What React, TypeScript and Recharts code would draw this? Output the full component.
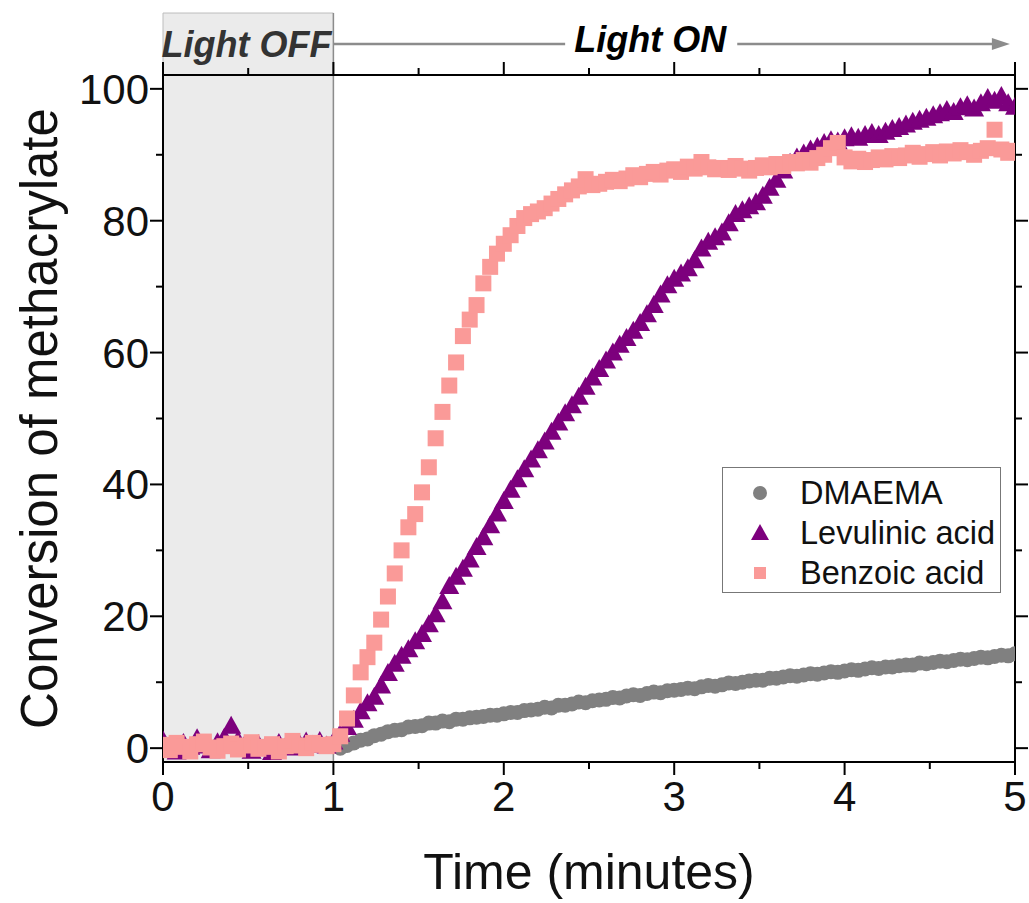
import React from "react";
import { ScatterChart, Scatter, XAxis, YAxis, Legend, ReferenceArea, ReferenceLine, ReferenceDot } from "recharts";

// sampling times (minutes)
const TIME = [
  0, 0.04, 0.08, 0.12, 0.16, 0.2, 0.24, 0.28, 0.32, 0.36, 0.4, 0.44, 0.48, 0.52, 0.56, 0.6, 0.64, 0.68, 0.72, 0.76, 0.8, 0.84, 0.88, 0.92, 0.96,
  1, 1.04, 1.08, 1.12, 1.16, 1.2, 1.24, 1.28, 1.32, 1.36, 1.4, 1.44, 1.48, 1.52, 1.56, 1.6, 1.64, 1.68, 1.72, 1.76, 1.8, 1.84, 1.88, 1.92, 1.96,
  2, 2.04, 2.08, 2.12, 2.16, 2.2, 2.24, 2.28, 2.32, 2.36, 2.4, 2.44, 2.48, 2.52, 2.56, 2.6, 2.64, 2.68, 2.72, 2.76, 2.8, 2.84, 2.88, 2.92, 2.96,
  3, 3.04, 3.08, 3.12, 3.16, 3.2, 3.24, 3.28, 3.32, 3.36, 3.4, 3.44, 3.48, 3.52, 3.56, 3.6, 3.64, 3.68, 3.72, 3.76, 3.8, 3.84, 3.88, 3.92, 3.96,
  4, 4.04, 4.08, 4.12, 4.16, 4.2, 4.24, 4.28, 4.32, 4.36, 4.4, 4.44, 4.48, 4.52, 4.56, 4.6, 4.64, 4.68, 4.72, 4.76, 4.8, 4.84, 4.88, 4.92, 4.96,
  5,
];

const DMAEMA = [
  null, null, null, null, null, null, null, null, null, null, null, null, null, null, null, null, null, null, null, null, null, null, null, null, null,
  null, 0.0, 0.4, 0.8, 1.2, 1.4, 1.9, 2.1, 2.5, 2.7, 2.8, 3.2, 3.3, 3.4, 3.8, 3.8, 4.1, 4.0, 4.4, 4.4, 4.6, 4.7, 4.8, 5.0, 5.0,
  5.2, 5.4, 5.4, 5.7, 5.8, 5.9, 6.2, 6.1, 6.5, 6.5, 6.7, 7.0, 6.9, 7.2, 7.3, 7.4, 7.7, 7.6, 7.9, 8.1, 8.0, 8.3, 8.5, 8.4, 8.7,
  8.8, 8.9, 9.1, 9.0, 9.3, 9.5, 9.4, 9.6, 9.9, 9.8, 10.0, 10.2, 10.3, 10.3, 10.6, 10.6, 10.8, 11.0, 10.9, 11.1, 11.3, 11.2, 11.4, 11.6, 11.5,
  11.7, 11.9, 11.8, 12.0, 12.2, 12.1, 12.3, 12.3, 12.5, 12.6, 12.6, 12.9, 12.8, 13.0, 13.2, 13.1, 13.3, 13.5, 13.4, 13.6, 13.8, 13.7, 13.9, 14.1, 14.0,
  14.3,
];

const LEVULINIC = [
  1.2, 0.3, -0.5, 0.8, 0.2, 1.5, 0.4, -0.3, 0.9, 1.6, 3.4, 1.2, 0.5, -0.4, 0.6, 0.2, -0.6, 0.8, 0.3, 0.1, 0.7, 1.0, 0.5, 1.1, 0.4,
  1.0, 2.2, 3.2, 4.3, 5.6, 6.8, 7.8, 9.5, 11.4, 12.8, 14.0, 15.0, 16.2, 17.3, 18.8, 20.3, 22.3, 24.6, 26.0, 27.2, 28.6, 30.5, 32.0, 33.8, 35.6,
  37.5, 39.2, 40.8, 42.3, 43.8, 45.2, 46.5, 48.0, 49.4, 50.8, 52.0, 53.3, 54.8, 56.2, 57.5, 58.8, 60.0, 61.2, 62.2, 63.3, 64.5, 65.8, 67.2, 68.8, 70.2,
  71.2, 72.0, 72.8, 74.0, 75.8, 76.8, 77.5, 78.2, 79.6, 81.0, 81.6, 82.2, 82.8, 83.8, 85.0, 86.2, 87.6, 88.8, 89.6, 90.2, 90.8, 91.2, 91.8, 92.2, 92.0,
  92.5, 92.8, 92.6, 93.0, 93.3, 93.0, 93.5, 93.9, 94.2, 94.6, 95.0, 95.3, 95.6, 96.0, 96.3, 96.8, 96.5, 97.2, 97.5, 97.0, 97.8, 98.6, 98.2, 98.9, 97.8,
  97.3,
];

const BENZOIC = [
  0.5, -0.3, 0.8, 0.2, -0.5, 0.6, 1.0, 0.1, -0.4, 0.3, 0.7, -0.2, 0.4, 0.9, -0.1, 0.2, 0.6, -0.5, 0.3, 1.1, 0.4, 0.0, 0.8, 0.5, 0.3,
  0.6, 1.8, 4.5, 8.0, 11.5, 13.8, 16.0, 19.5, 23.0, 26.5, 30.0, 33.5, 35.5, 38.8, 42.6, 47.0, 51.0, 55.0, 58.5, 62.5, 65.0, 67.2, 70.5, 73.0, 75.0,
  76.5, 77.8, 79.2, 80.4, 81.0, 81.4, 81.9, 82.6, 83.3, 84.0, 84.6, 85.2, 86.3, 85.4, 85.6, 85.9, 86.2, 86.0, 86.4, 86.9, 86.6, 87.1, 87.4, 87.0, 87.6,
  87.8, 87.4, 88.2, 87.9, 88.9, 88.1, 87.8, 88.0, 87.7, 88.3, 87.9, 87.6, 88.0, 88.4, 88.1, 88.6, 88.3, 88.9, 88.7, 89.2, 88.8, 89.5, 90.0, 91.0, 91.8,
  89.6, 89.0, 89.4, 88.9, 89.2, 89.6, 89.3, 89.8, 89.5, 89.9, 90.3, 89.7, 90.1, 90.4, 89.9, 90.5, 90.2, 90.7, 90.4, 90.0, 90.6, 91.0, 93.8, 90.8, 90.3,
  90.6,
];

const SERIES_NAMES = ["DMAEMA", "Levulinic acid", "Benzoic acid"];
const X_TICKS = [0, 0.5, 1, 1.5, 2, 2.5, 3, 3.5, 4, 4.5, 5];
const Y_TICKS = [0, 10, 20, 30, 40, 50, 60, 70, 80, 90, 100];

const FONT = "'Liberation Sans', Arial, Helvetica, sans-serif";
const GREY = "#808080";
const PURPLE = "#7d007d";
const PINK = "#fa9a98";

const toPoints = (vals: (number | null)[]) =>
  TIME.map((t, i) => ({ t, v: vals[i] })).filter((p) => p.v !== null);

const isMajorX = (v: number) => Number.isInteger(v);
const isMajorY = (v: number) => v % 20 === 0;

function BottomTick({ x, y, payload }: any) {
  const major = isMajorX(payload.value);
  return (
    <g>
      <line x1={x} x2={x} y1={y} y2={y + (major ? 13 : 7)} stroke="#000" strokeWidth={2} />
      {major && (
        <text x={x} y={y + 49} textAnchor="middle" fontSize={42} fontFamily={FONT} fill="#111">
          {payload.value}
        </text>
      )}
    </g>
  );
}

function TopTick({ x, y, payload }: any) {
  const major = isMajorX(payload.value);
  return <line x1={x} x2={x} y1={y} y2={y - (major ? 13 : 7)} stroke="#000" strokeWidth={2} />;
}

function LeftTick({ x, y, payload }: any) {
  const major = isMajorY(payload.value);
  return (
    <g>
      <line x1={x} x2={x - (major ? 13 : 7)} y1={y} y2={y} stroke="#000" strokeWidth={2} />
      {major && (
        <text x={x - 14} y={y + 15} textAnchor="end" fontSize={42} fontFamily={FONT} fill="#111">
          {payload.value}
        </text>
      )}
    </g>
  );
}

function RightTick({ x, y, payload }: any) {
  const major = isMajorY(payload.value);
  return <line x1={x} x2={x + (major ? 13 : 7)} y1={y} y2={y} stroke="#000" strokeWidth={2} />;
}

function XTitle({ viewBox }: any) {
  return (
    <text x={viewBox.x + viewBox.width / 2} y={viewBox.y + 127} textAnchor="middle" fontSize={50} fontFamily={FONT} fill="#111">
      Time (minutes)
    </text>
  );
}

function YTitle({ viewBox }: any) {
  const cx = viewBox.x + 57;
  const cy = viewBox.y + viewBox.height / 2;
  return (
    <text x={cx} y={cy} transform={`rotate(-90, ${cx}, ${cy})`} textAnchor="middle" fontSize={51} fontFamily={FONT} fill="#111">
      Conversion of methacrylate
    </text>
  );
}

const CircleMark = ({ cx, cy }: any) => <circle cx={cx} cy={cy} r={7.5} fill={GREY} />;
const TriMark = ({ cx, cy }: any) => (
  <polygon points={`${cx},${cy - 10} ${cx + 10},${cy + 8} ${cx - 10},${cy + 8}`} fill={PURPLE} />
);
const SquareMark = ({ cx, cy }: any) => <rect x={cx - 8} y={cy - 8} width={16} height={16} fill={PINK} />;

function LegendBox({ payload }: any) {
  const items = [...(payload || [])].sort(
    (a: any, b: any) => SERIES_NAMES.indexOf(a.value) - SERIES_NAMES.indexOf(b.value)
  );
  return (
    <svg width={280} height={127} style={{ display: "block" }}>
      <rect x={0.5} y={0.5} width={278} height={125} fill="#fff" stroke="#777" strokeWidth={1} />
      {items.map((e: any, i: number) => {
        const cy = 26 + i * 40;
        const cx = 38;
        let icon;
        if (e.type === "circle") icon = <circle cx={cx} cy={cy} r={7} fill={e.color} />;
        else if (e.type === "triangle")
          icon = <polygon points={`${cx},${cy - 9} ${cx + 9},${cy + 7} ${cx - 9},${cy + 7}`} fill={e.color} />;
        else icon = <rect x={cx - 6} y={cy - 6} width={12} height={12} fill={e.color} />;
        return (
          <g key={e.value}>
            {icon}
            <text x={78} y={cy + 11} fontSize={32.5} fontFamily={FONT} fill="#111">
              {e.value}
            </text>
          </g>
        );
      })}
    </svg>
  );
}

const ArrowShape = (props: any) => {
  const { x1, y1, x2, y2 } = props;
  return (
    <g>
      <line x1={x1} y1={y1} x2={x2 - 14} y2={y2} stroke="#8c8c8c" strokeWidth={2.5} />
      <polygon points={`${x2},${y2} ${x2 - 18},${y2 - 6} ${x2 - 18},${y2 + 6}`} fill="#8c8c8c" />
    </g>
  );
};

const LabelDot = (color: string, text: string) => (props: any) => (
  <text x={props.cx} y={props.cy + 13} textAnchor="middle" fontSize={36} fontWeight="bold" fontStyle="italic" fontFamily={FONT} fill={color}>
    {text}
  </text>
);

export default function App() {
  const Y_MIN = -2.1;
  const Y_MAX = 102.1;
  const ARROW_Y = 106.8;
  const SHADE_TOP = 111.5;
  return (
    <div style={{ position: "absolute", left: 0, top: 0, background: "#fff" }}>
      <ScatterChart width={1029} height={903} margin={{ top: 65, right: 4, bottom: 81, left: 0 }}>
        <XAxis
          xAxisId="b" dataKey="t" type="number" domain={[0, 5]} ticks={X_TICKS} interval={0}
          allowDataOverflow tickSize={0} tickMargin={0} tickLine={false} height={60}
          axisLine={{ stroke: "#000", strokeWidth: 2 }} tick={<BottomTick />} label={<XTitle />}
        />
        <XAxis
          xAxisId="top" orientation="top" dataKey="t" type="number" domain={[0, 5]} ticks={X_TICKS} interval={0}
          allowDataOverflow tickSize={0} tickMargin={0} tickLine={false} height={10}
          axisLine={{ stroke: "#000", strokeWidth: 2 }} tick={<TopTick />}
        />
        <YAxis
          yAxisId="l" dataKey="v" type="number" domain={[Y_MIN, Y_MAX]} ticks={Y_TICKS} interval={0}
          allowDataOverflow tickSize={0} tickMargin={0} tickLine={false} width={163}
          axisLine={{ stroke: "#000", strokeWidth: 2 }} tick={<LeftTick />} label={<YTitle />}
        />
        <YAxis
          yAxisId="r" orientation="right" dataKey="v" type="number" domain={[Y_MIN, Y_MAX]} ticks={Y_TICKS} interval={0}
          allowDataOverflow tickSize={0} tickMargin={0} tickLine={false} width={10}
          axisLine={{ stroke: "#000", strokeWidth: 2 }} tick={<RightTick />}
        />

        <Scatter name="DMAEMA" data={toPoints(DMAEMA)} xAxisId="b" yAxisId="l" fill={GREY}
          legendType="circle" shape={<CircleMark />} isAnimationActive={false} />
        <Scatter name="Levulinic acid" data={toPoints(LEVULINIC)} xAxisId="b" yAxisId="l" fill={PURPLE}
          legendType="triangle" shape={<TriMark />} isAnimationActive={false} />
        <Scatter name="Benzoic acid" data={toPoints(BENZOIC)} xAxisId="b" yAxisId="l" fill={PINK}
          legendType="square" shape={<SquareMark />} isAnimationActive={false} />

        <ReferenceArea xAxisId="b" yAxisId="l" x1={0} x2={1} y1={Y_MIN} y2={SHADE_TOP} ifOverflow="visible"
          fill="#9a9a9a" fillOpacity={0.2} stroke="#bdbdbd" strokeWidth={1} />
        <ReferenceLine xAxisId="b" yAxisId="l" segment={[{ x: 1, y: Y_MIN }, { x: 1, y: SHADE_TOP }]}
          ifOverflow="visible" stroke="#8c8c8c" strokeWidth={1.5} />
        <ReferenceLine xAxisId="b" yAxisId="l" segment={[{ x: 1, y: ARROW_Y }, { x: 2.36, y: ARROW_Y }]}
          ifOverflow="visible" stroke="#8c8c8c" strokeWidth={2.5} />
        <ReferenceLine xAxisId="b" yAxisId="l" segment={[{ x: 3.37, y: ARROW_Y }, { x: 4.97, y: ARROW_Y }]}
          ifOverflow="visible" shape={ArrowShape} />
        <ReferenceDot xAxisId="b" yAxisId="l" x={0.49} y={ARROW_Y} ifOverflow="visible" shape={LabelDot("#333", "Light OFF")} />
        <ReferenceDot xAxisId="b" yAxisId="l" x={2.86} y={ARROW_Y + 0.8} ifOverflow="visible" shape={LabelDot("#000", "Light ON")} />

        <Legend layout="vertical" align="center" verticalAlign="middle"
          wrapperStyle={{ left: 722, top: 467, width: 280, height: 127 }} content={<LegendBox />} />
      </ScatterChart>
    </div>
  );
}
